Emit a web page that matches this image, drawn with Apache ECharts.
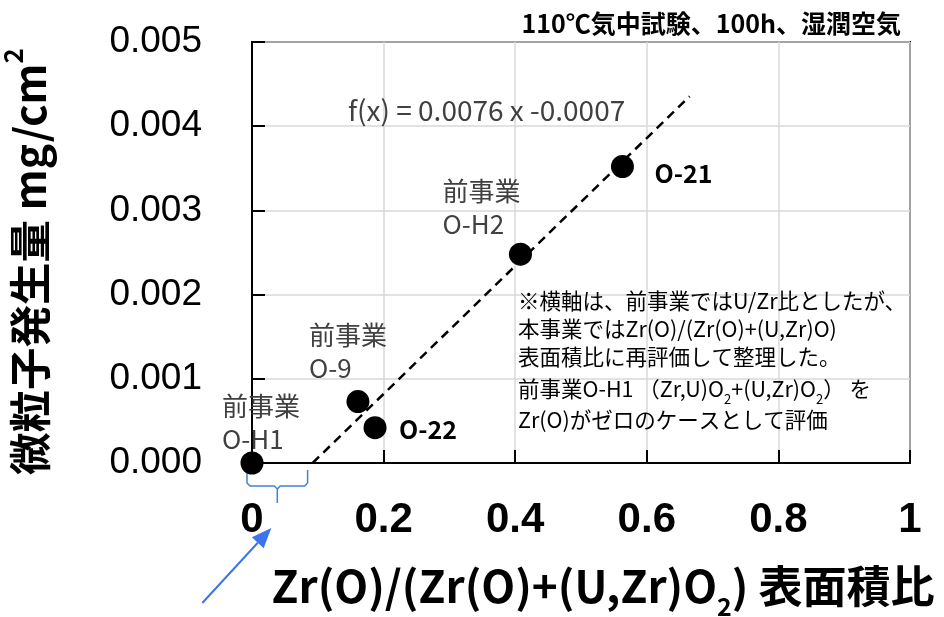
<!DOCTYPE html>
<html>
<head>
<meta charset="utf-8">
<script src="https://cdn.jsdelivr.net/npm/echarts@6/dist/echarts.min.js"></script>
<style>
  html, body { margin: 0; padding: 0; background: #fff; }
  #main { width: 944px; height: 617px; }
</style>
</head>
<body>
<div id="main"></div>
<script>
// Sample identifiers and measured values
const sampleNames = ['O-H1', 'O-9', 'O-22', 'O-H2', 'O-21'];
const areaRatio = [0, 0.161, 0.187, 0.408, 0.563];          // Zr(O)/(Zr(O)+(U,Zr)O2) surface area ratio
const particleMass = [0, 0.00073, 0.00042, 0.00248, 0.00352]; // particle generation, mg/cm2
const priorProject = ['O-H1', 'O-9', 'O-H2'];                // samples from the previous project

// Linear fit f(x) = slope * x + intercept, drawn between these x bounds
const fitSlope = 0.0076;
const fitIntercept = -0.0007;
const fitRange = [0.0921, 0.665];

// Axis ticks
const xTicks = [0, 0.2, 0.4, 0.6, 0.8, 1];
const yTicks = [0, 0.001, 0.002, 0.003, 0.004, 0.005];

const CJK = '"Noto Sans CJK JP", "Noto Sans", sans-serif';
const LATIN = '"Liberation Sans", Arial, sans-serif';

// Label placement per sample (offset from the marker centre)
const labelPlacement = {
  'O-H1': [-30, -40],
  'O-9':  [-49, -50],
  'O-22': [24, 2],
  'O-H2': [-78, -47],
  'O-21': [32, 7]
};

const chart = echarts.init(document.getElementById('main'), null, { renderer: 'canvas' });

const scatterData = sampleNames.map((name, i) => {
  const prior = priorProject.includes(name);
  return {
    name: name,
    value: [areaRatio[i], particleMass[i]],
    label: {
      show: true,
      position: 'inside',
      align: 'left',
      verticalAlign: 'middle',
      offset: labelPlacement[name],
      formatter: prior ? '前事業\n' + name : name,
      fontFamily: CJK,
      fontSize: prior ? 26 : 25,
      fontWeight: prior ? 'normal' : 'bold',
      color: prior ? '#404040' : '#000',
      lineHeight: prior ? 33 : 28
    }
  };
});

const fitLine = fitRange.map(x => [x, fitSlope * x + fitIntercept]);

const noteLines = [
  '※横軸は、前事業ではU/Zr比としたが、',
  '本事業ではZr(O)/(Zr(O)+(U,Zr)O)',
  '表面積比に再評価して整理した。',
  '前事業O-H1 （Zr,U)O{s|2}+(U,Zr)O{s|2}） を',
  'Zr(O)がゼロのケースとして評価'
];

const option = {
  backgroundColor: '#fff',
  animation: false,
  title: {
    text: '110℃気中試験、100h、湿潤空気',
    right: 38,
    top: 6,
    textStyle: { fontFamily: CJK, fontSize: 25, fontWeight: 'bold', color: '#000' }
  },
  grid: {
    left: 252, right: 34, top: 42, bottom: 154,
    containLabel: false,
    outerBoundsMode: 'none',
    show: true, borderColor: '#000', borderWidth: 2, backgroundColor: 'transparent'
  },
  xAxis: {
    type: 'value',
    min: xTicks[0],
    max: xTicks[xTicks.length - 1],
    interval: xTicks[1] - xTicks[0],
    name: 'Zr(O)/(Zr(O)+(U,Zr)O{s|2}) 表面積比',
    nameLocation: 'middle',
    nameGap: 90,
    nameTextStyle: {
      fontFamily: CJK, fontSize: 44, fontWeight: 'bold', color: '#000',
      padding: [0, 0, 0, 44],
      rich: {
        s: { fontFamily: CJK, fontSize: 25, fontWeight: 'bold', color: '#000', verticalAlign: 'bottom', lineHeight: 66 }
      }
    },
    axisLine: { lineStyle: { color: '#000', width: 2 } },
    axisTick: { inside: true, length: 13, lineStyle: { color: '#000', width: 2 } },
    splitLine: { show: true, lineStyle: { color: '#d9d9d9', width: 1.5 } },
    axisLabel: {
      fontFamily: LATIN, fontSize: 42, fontWeight: 'bold', color: '#000', margin: 36,
      formatter: v => String(+v.toFixed(1))
    }
  },
  yAxis: {
    type: 'value',
    min: yTicks[0],
    max: yTicks[yTicks.length - 1],
    interval: yTicks[1] - yTicks[0],
    name: '微粒子発生量 mg/cm{p|2}',
    nameLocation: 'middle',
    nameGap: 192,
    nameRotate: 90,
    nameTextStyle: {
      fontFamily: CJK, fontSize: 42.5, fontWeight: 'bold', color: '#000',
      padding: [0, 18, 0, 0],
      rich: {
        p: { fontFamily: CJK, fontSize: 26, fontWeight: 'bold', color: '#000', verticalAlign: 'top', lineHeight: 60 }
      }
    },
    axisLine: { lineStyle: { color: '#000', width: 2 } },
    axisTick: { inside: true, length: 13, lineStyle: { color: '#000', width: 2 } },
    splitLine: { show: true, lineStyle: { color: '#d9d9d9', width: 1.5 } },
    axisLabel: {
      fontFamily: LATIN, fontSize: 37, color: '#000', margin: 50,
      formatter: v => v.toFixed(3)
    }
  },
  series: [
    {
      type: 'line',
      data: fitLine,
      symbol: 'none',
      silent: true,
      z: 2,
      lineStyle: { color: '#000', width: 2.5, type: [9, 6] }
    },
    {
      type: 'scatter',
      data: scatterData,
      symbol: 'circle',
      symbolSize: 23,
      clip: false,
      z: 3,
      itemStyle: { color: '#000', opacity: 1 }
    }
  ]
};

chart.setOption(option);

// Equation text, note block, and the blue brace/arrow marking the zero-crossing range
function drawAnnotations() {
  const origin = chart.convertToPixel({ gridIndex: 0 }, [0, 0]);
  const cross = chart.convertToPixel({ gridIndex: 0 }, [fitRange[0], 0]);
  const bx0 = origin[0] - 5;
  const bx1 = cross[0] - 5;
  const bm = (bx0 + bx1) / 2;
  const by0 = origin[1] + 7;
  const by1 = origin[1] + 23;
  const by2 = origin[1] + 40;

  const head = [bm - 6, origin[1] + 65];
  const tail = [head[0] - 69, head[1] + 75];
  const dx = head[0] - tail[0], dy = head[1] - tail[1];
  const len = Math.sqrt(dx * dx + dy * dy);
  const ux = dx / len, uy = dy / len;
  const hl = 20, hw = 8;
  const base = [head[0] - ux * hl, head[1] - uy * hl];
  const blue = '#3b74ec';

  chart.setOption({
    graphic: [
      {
        type: 'text', left: 348, top: 96, silent: true,
        style: {
          text: 'f(x) = ' + fitSlope + ' x ' + fitIntercept,
          fontFamily: CJK, fontSize: 28, fill: '#404040'
        }
      },
      {
        type: 'text', left: 518, top: 287, silent: true,
        style: {
          text: noteLines.join('\n'),
          fontFamily: CJK, fontSize: 21.5, fill: '#000', lineHeight: 28,
          rich: {
            s: { fontFamily: CJK, fontSize: 13, fill: '#000', verticalAlign: 'bottom', lineHeight: 35 }
          }
        }
      },
      {
        type: 'polyline', silent: true,
        shape: { points: [[bx0, by0], [bx0, by1 - 3], [bx0 + 3, by1], [bm - 3, by1], [bm, by1 + 3], [bm, by2]] },
        style: { stroke: '#3f82d6', lineWidth: 1.5, fill: null }
      },
      {
        type: 'polyline', silent: true,
        shape: { points: [[bm, by1 + 3], [bm + 3, by1], [bx1 - 3, by1], [bx1, by1 - 3], [bx1, by0]] },
        style: { stroke: '#3f82d6', lineWidth: 1.5, fill: null }
      },
      {
        type: 'line', silent: true,
        shape: { x1: tail[0], y1: tail[1], x2: base[0], y2: base[1] },
        style: { stroke: blue, lineWidth: 2 }
      },
      {
        type: 'polygon', silent: true,
        shape: {
          points: [
            head,
            [base[0] - uy * hw, base[1] + ux * hw],
            [base[0] + uy * hw, base[1] - ux * hw]
          ]
        },
        style: { fill: blue }
      }
    ]
  });
}

drawAnnotations();
</script>
</body>
</html>
